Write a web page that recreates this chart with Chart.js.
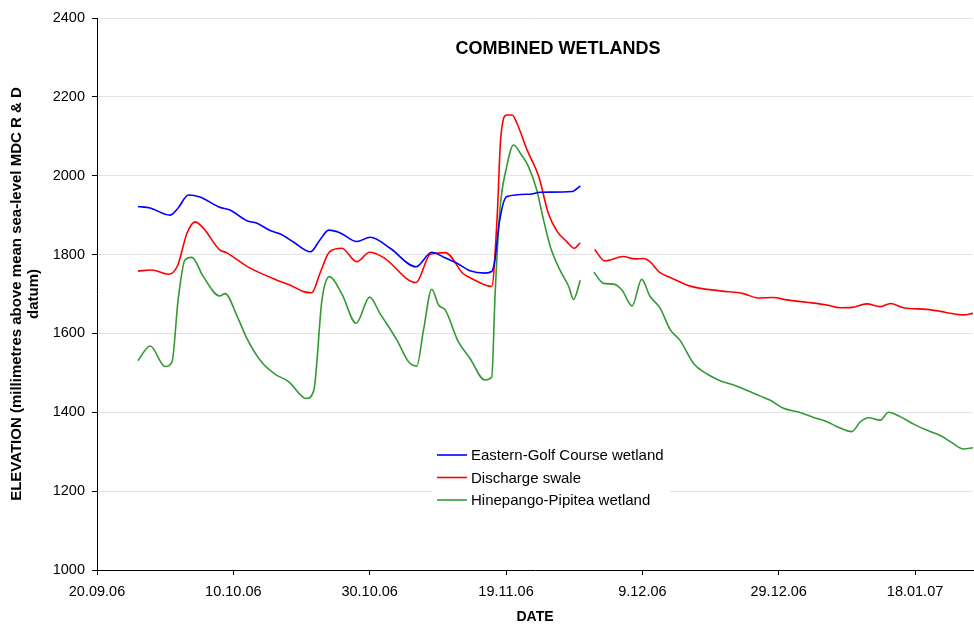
<!DOCTYPE html>
<html>
<head>
<meta charset="utf-8">
<title>Combined wetlands</title>
<script src="https://cdn.jsdelivr.net/npm/chart.js@4/dist/chart.umd.min.js"></script>
<style>
    html, body { margin: 0; padding: 0; background: #fff; }
    #wrap { width: 974px; height: 628px; }
</style>
</head>
<body>
<div id="wrap"><canvas id="chart" width="974" height="628"></canvas></div>
<script>
// days counted from 20.09.06 (mm)
const golfDays = [6, 7.8, 10.7, 11.9, 13.4, 15.1, 18, 19.5, 22, 23.4, 25.4, 26.9, 28.8, 31.3, 32.7, 34, 35.7,
    38.1, 40.1, 43, 46.8, 49.1, 50.8, 52.8, 54.7, 56.9, 57.9, 58.4, 59.0, 60.1, 63.5, 65, 69.7, 70.9];
const golfElev = [1922, 1918, 1900, 1918, 1951, 1946, 1920, 1913, 1886, 1880, 1861, 1852, 1832, 1807, 1837, 1862, 1855,
    1833, 1844, 1816, 1769, 1806, 1794, 1778, 1759, 1753, 1757, 1790, 1880, 1947, 1953, 1958, 1960, 1974];

const swaleDays = [6, 8, 10.5, 11.8, 13.2, 14.4, 15.6, 18, 19, 22, 26.4, 28.3, 30.3, 31.5, 32.7, 34.1, 35.9,
    38.1, 40, 42, 46.8, 48.9, 51.1, 53.7, 55.2, 57.9, 58.7, 59.2, 60.1, 60.9, 61.6, 63.1, 64.8, 66.2, 67.5,
    68.9, 70, 70.9, 72,
    73, 74.5, 77.2, 78.9, 80.2, 81.1, 82.6, 84.1, 87, 91.4, 94.8, 97, 99.2, 101.2, 104.1, 107.1, 109,
    110.7, 112.9, 114.9, 116.4, 118.3, 121.7, 123.7, 125.2, 127.1, 128.5];
const swaleElev = [1758, 1761, 1750, 1771, 1854, 1883, 1867, 1812, 1805, 1770, 1735, 1723, 1706, 1703, 1752, 1807, 1816,
    1782, 1806, 1793, 1729, 1801, 1805, 1752, 1737, 1719, 1896, 2090, 2154, 2154, 2133, 2065, 1998, 1905, 1859,
    1833, 1816, 1830, null,
    1813, 1784, 1795, 1789, 1790, 1782, 1754, 1742, 1720, 1708, 1701, 1690, 1691, 1685, 1679, 1672, 1665,
    1666, 1675, 1668, 1676, 1665, 1661, 1656, 1651, 1647, 1651];

const hineDays = [6, 7.8, 10, 11, 11.9, 12.9, 13.9, 15.6, 18, 18.8, 20.5, 22, 24.2, 26.1, 28.1, 30.7, 31.8,
    33, 34.1, 35.9, 38, 40, 41.5, 44, 45.7, 46.9, 47.9, 49.1, 50.1, 51.1, 53, 54.7, 56.9, 57.9, 58.4,
    59.1, 60.1, 61.1, 62.1, 63.3, 64.5, 65.5, 66.5, 67.9, 69.2, 69.9, 70.9, 72,
    72.9, 74.3, 75.8, 77, 78.5, 79.9, 81.1, 82.6, 84.1, 85.5, 87.5, 89.5, 91.4, 93.4, 95.3, 97.3, 98.7,
    100.7, 103.2, 105.1, 107.1, 108.5, 110.7, 112, 113.2, 114.9, 116.1, 117.8, 119.8, 121.7, 123.7, 125.4,
    127.1, 128.5];
const hineElev = [1531, 1568, 1516, 1528, 1685, 1786, 1793, 1744, 1695, 1701, 1646, 1587, 1526, 1497, 1478, 1435, 1455,
    1685, 1744, 1701, 1626, 1692, 1651, 1583, 1528, 1517, 1609, 1712, 1672, 1659, 1579, 1537, 1482, 1489, 1700,
    1913, 2023, 2078, 2057, 2023, 1964, 1888, 1820, 1761, 1719, 1686, 1735, null,
    1755, 1727, 1725, 1710, 1670, 1737, 1695, 1664, 1609, 1583, 1524, 1497, 1480, 1469, 1456, 1441, 1431,
    1410, 1399, 1387, 1376, 1364, 1351, 1376, 1386, 1380, 1400, 1389, 1370, 1355, 1341, 1323,
    1307, 1310];

const seriesNames = ['Eastern-Golf Course wetland', 'Discharge swale', 'Hinepango-Pipitea wetland'];
const seriesColors = ['#0000ff', '#ff0000', '#339933'];

const startDate = new Date(2006, 8, 20);
const FONT = '"Liberation Sans", Arial, sans-serif';

function toPoints(days, vals) {
    return days.map((d, i) => ({ x: d, y: vals[i] }));
}

// day number -> "d.mm.yy"
function dateLabel(v) {
    const d = new Date(startDate.getFullYear(), startDate.getMonth(), startDate.getDate() + Math.round(v));
    const mm = String(d.getMonth() + 1).padStart(2, '0');
    const yy = String(d.getFullYear() % 100).padStart(2, '0');
    return d.getDate() + '.' + mm + '.' + yy;
}

function makeSet(i, days, vals) {
    return {
        label: seriesNames[i],
        data: toPoints(days, vals),
        borderColor: seriesColors[i],
        backgroundColor: seriesColors[i],
        borderWidth: 1.6,
        pointRadius: 0,
        fill: false,
        spanGaps: false,
        cubicInterpolationMode: 'monotone'
    };
}

// title and legend sit inside the plot area, like the original
const insideText = {
    id: 'insideText',
    afterDraw(chart) {
        const ctx = chart.ctx;
        ctx.save();
        ctx.fillStyle = '#000';
        ctx.font = 'bold 18px ' + FONT;
        ctx.textAlign = 'center';
        ctx.textBaseline = 'middle';
        ctx.fillText('COMBINED WETLANDS', 558, 49);

        // legend box
        ctx.fillStyle = '#fff';
        ctx.fillRect(432, 441, 238, 72);
        ctx.font = '15px ' + FONT;
        ctx.textAlign = 'left';
        chart.data.datasets.forEach((ds, i) => {
            const y = 455 + i * 22.5;
            ctx.strokeStyle = ds.borderColor;
            ctx.lineWidth = 1.6;
            ctx.beginPath();
            ctx.moveTo(437, y);
            ctx.lineTo(467, y);
            ctx.stroke();
            ctx.fillStyle = '#000';
            ctx.fillText(ds.label, 471, y + 1);
        });
        ctx.restore();
    }
};

new Chart(document.getElementById('chart'), {
    type: 'line',
    data: {
        datasets: [
            makeSet(0, golfDays, golfElev),
            makeSet(1, swaleDays, swaleElev),
            makeSet(2, hineDays, hineElev)
        ]
    },
    options: {
        responsive: false,
        animation: false,
        layout: { padding: { top: 18, right: 1, left: 0, bottom: 0 } },
        plugins: {
            legend: { display: false },
            tooltip: { enabled: false }
        },
        scales: {
            x: {
                type: 'linear',
                min: 0,
                max: 128.5,
                afterFit(scale) { scale.height = 58; },
                ticks: {
                    stepSize: 20,
                    includeBounds: false,
                    maxRotation: 0,
                    padding: 8,
                    color: '#000',
                    font: { family: FONT, size: 14.5 },
                    callback: v => dateLabel(v)
                },
                grid: { drawOnChartArea: false, tickLength: 5, tickColor: '#000' },
                border: { color: '#000', width: 1 },
                title: {
                    display: true,
                    text: 'DATE',
                    color: '#000',
                    font: { family: FONT, size: 14, weight: 'bold' },
                    padding: { top: 0, bottom: 2 }
                }
            },
            y: {
                min: 1000,
                max: 2400,
                afterFit(scale) { scale.width = 97; },
                ticks: {
                    stepSize: 200,
                    padding: 7,
                    color: '#000',
                    font: { family: FONT, size: 14.5 },
                    callback: v => String(v)
                },
                grid: { color: '#e3e3e3', tickLength: 5, tickColor: '#000' },
                border: { color: '#000', width: 1 },
                title: {
                    display: true,
                    text: ['ELEVATION (millimetres above mean sea-level MDC R & D', 'datum)'],
                    color: '#000',
                    font: { family: FONT, size: 15, weight: 'bold', lineHeight: 1.1 },
                    padding: { top: 9, bottom: 0 }
                }
            }
        }
    },
    plugins: [insideText]
});
</script>
</body>
</html>
